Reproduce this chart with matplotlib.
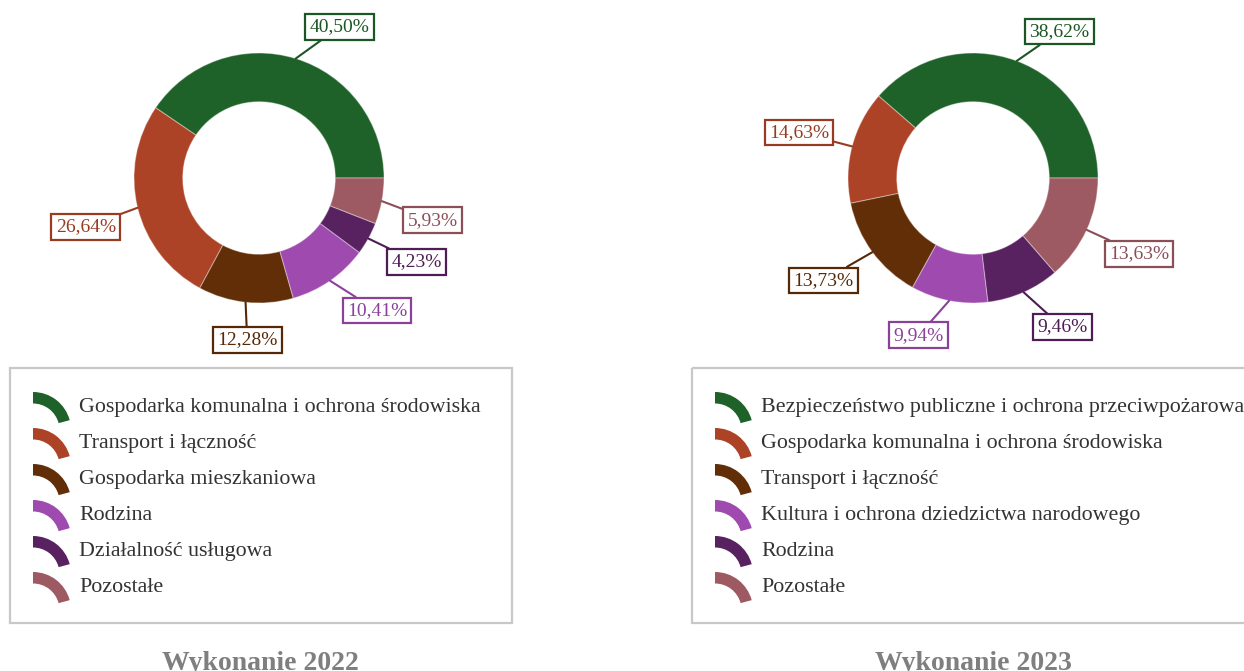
import numpy as np
import matplotlib.pyplot as plt
from matplotlib.patches import Wedge, Rectangle
from matplotlib.colors import to_rgb

plt.rcParams['font.family'] = ['Liberation Serif', 'DejaVu Serif']

W, H = 1244, 671

# 2022 budget structure
labels_2022 = ["Gospodarka komunalna i ochrona środowiska", "Transport i łączność",
               "Gospodarka mieszkaniowa", "Rodzina", "Działalność usługowa", "Pozostałe"]
values_2022 = [40.50, 26.64, 12.28, 10.41, 4.23, 5.93]

# 2023 budget structure
labels_2023 = ["Bezpieczeństwo publiczne i ochrona przeciwpożarowa",
               "Gospodarka komunalna i ochrona środowiska", "Transport i łączność",
               "Kultura i ochrona dziedzictwa narodowego", "Rodzina", "Pozostałe"]
values_2023 = [38.62, 14.63, 13.73, 9.94, 9.46, 13.63]

colors = ["#1f6229", "#ad4326", "#612e08", "#9e4aaf", "#58215f", "#9e5a63"]

# label placement tweaks (angle shift in degrees, distance in radii)
shift_2022 = [-11, 2, 2, 7, 1, -3]
dist_2022 = [1.37, 1.44, 1.30, 1.42, 1.43, 1.43]
shift_2023 = [-10, 0, -2, -8, 7, 0]
dist_2023 = [1.36, 1.44, 1.45, 1.33, 1.39, 1.46]

R_PX = 125  # outer radius in pixels


def darker(c, f=0.88):
    r, g, b = to_rgb(c)
    return (r * f, g * f, b * f)


def fmt(v):
    return f"{v:.2f}".replace(".", ",") + "%"


def draw_donut(fig, cx, cy, x0, x1, y0, y1, values, shifts, dists):
    # axes spanning pixels x0..x1, y0..y1 (y from top), unit = R_PX
    ax = fig.add_axes([x0 / W, 1 - y1 / H, (x1 - x0) / W, (y1 - y0) / H])
    ax.pie(values, colors=colors, startangle=0, counterclock=True, radius=1,
           wedgeprops=dict(width=0.39, edgecolor=(1, 1, 1, 0.35), linewidth=0.8))
    ax.set_xlim((x0 - cx) / R_PX, (x1 - cx) / R_PX)
    ax.set_ylim((cy - y1) / R_PX, (cy - y0) / R_PX)
    ax.set_aspect('auto')
    ax.axis('off')

    start = 0.0
    for v, c, s, d in zip(values, colors, shifts, dists):
        span = v / sum(values) * 360
        mid = np.deg2rad(start + span / 2)
        ang = np.deg2rad(start + span / 2 + s)
        start += span
        dc = darker(c)
        ax.annotate(fmt(v), xy=(np.cos(mid), np.sin(mid)),
                    xytext=(d * np.cos(ang), d * np.sin(ang)),
                    ha='center', va='center', fontsize=14, color=dc,
                    bbox=dict(boxstyle='square,pad=0.22', fc='white', ec=dc, lw=1.6),
                    arrowprops=dict(arrowstyle='-', color=dc, lw=1.5,
                                    shrinkA=0, shrinkB=0))
    return ax


def draw_legend(ax, bx, bx1, names, title, tx):
    ax.add_patch(Rectangle((bx, 368), bx1 - bx, 255, fill=False,
                           ec="#c8c8c8", lw=1.6))
    for i, (name, c) in enumerate(zip(names, colors)):
        base = 412 + 36 * i
        ix = bx + 23
        ax.add_patch(Wedge((ix, base + 18), 38, -90, -15, width=11.5,
                           fc=c, ec='none'))
        ax.text(ix + 46, base, name, fontsize=15.8, color="#333333",
                va='baseline', ha='left')
    ax.text(tx, 670, title, fontsize=20, fontweight='bold', color="#7f7f7f",
            ha='center', va='baseline')


fig = plt.figure(figsize=(W / 100, H / 100), dpi=100)
bg = fig.add_axes([0, 0, 1, 1])
bg.set_xlim(0, W)
bg.set_ylim(H, 0)
bg.axis('off')

draw_donut(fig, 259, 178, 0, 518, 0, 360, values_2022, shift_2022, dist_2022)
draw_donut(fig, 973, 178, 715, 1231, 0, 360, values_2023, shift_2023, dist_2023)

draw_legend(bg, 10, 512, labels_2022, "Wykonanie 2022", 260)
draw_legend(bg, 692, 1260, labels_2023, "Wykonanie 2023", 973)

fig.savefig("out.png", dpi=100)
